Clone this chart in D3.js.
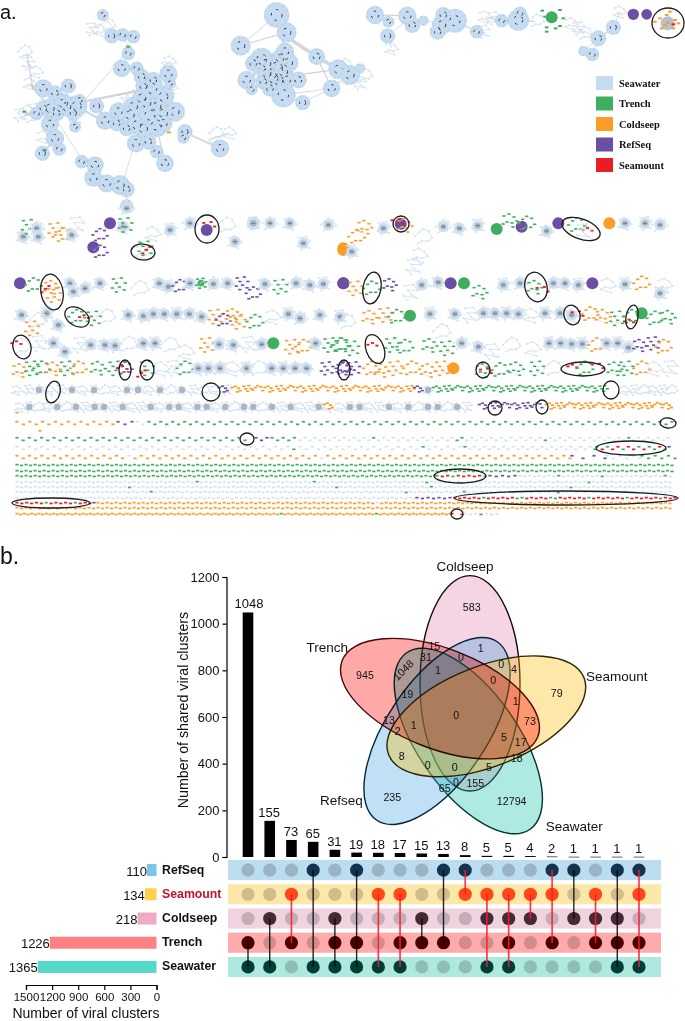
<!DOCTYPE html>
<html><head><meta charset="utf-8">
<script src="https://cdn.jsdelivr.net/npm/d3@7/dist/d3.min.js"></script>
<style>html,body{margin:0;padding:0;background:#fff}svg{display:block}text{font-family:"Liberation Sans",Arial,sans-serif;fill:#111}</style>
</head><body><svg id="c" width="685" height="1021"></svg>
<script>
/* ---------- panel b data ---------- */
const setNames=["RefSeq","Seamount","Coldseep","Trench","Seawater"];
const setTotals=[110,134,218,1226,1365];
const intersectionCounts=[1048,155,73,65,31,19,18,17,15,13,8,5,5,4,2,1,1,1,1];
const intersectionSets=["TS","CS","MT","RS","CTS","RTS","MS","MTS","CT","RT","RM","MCS","MCTS","MC","RMT","RC","MCT","RCTS","RMTS"];
const barTicks=[0,200,400,600,800,1000,1200];
const totalTicks=[1500,1200,900,600,300,0];
const vennNames=["Coldseep","Trench","Seamount","Refseq","Seawater"];
const vennValues=["583","1","15","31","0","0","4","1048","1","0","945","79","19","1","0","73","13","2","1","5","17","18","8","0","0","5","0","155","65","235","12794"];
/* ---------- panel a data ---------- */
const legendNames=["Seawater","Trench","Coldseep","RefSeq","Seamount"];
// network clusters: [x, y, radius] in 3x crop pixels
const netOne=[[308,45,10],[335,108,14],[368,105,12],[400,110,12],[385,160,12],[365,205,17],[410,205,12],[425,230,15],[505,222,18],[130,265,18],[165,280,15],[205,258,14],[455,265,25],[490,290,22],[425,295,20],[290,318,14],[230,318,22],[190,310,20],[150,325,20],[355,335,18],[315,362,18],[390,345,20],[525,335,20],[450,345,25],[410,375,20],[470,375,25],[380,385,15],[150,372,18],[225,380,10],[165,415,18],[555,395,14],[550,413,10],[408,430,18],[445,425,15],[470,455,12],[495,490,17],[178,447,12],[127,460,14],[660,445,18],[245,485,12],[285,495,17],[280,533,18],[320,550,18],[360,555,20],[380,568,15],[380,618,12],
[400,320,20],[440,310,20],[470,320,20],[490,340,20],[430,385,20],[490,370,18],[350,370,15],[130,325,15],[110,340,12],[200,320,20],[220,340,14],[170,340,15],[240,300,10],[460,240,15],[430,260,15],[510,250,10],
[830,45,27],[860,97,20],[722,137,20],[855,155,18],[785,178,24],[865,188,20],[740,240,18],[830,205,30],[800,220,20],[835,240,22],[860,240,18],[895,240,16],[810,265,16],[850,285,26],[908,308,14],[950,170,16],[1015,208,20],[995,265,17],[755,268,10],[800,190,20],[840,175,18],[760,190,16],[820,235,22],[790,245,15],[850,215,20]];
const netOneEdges=[[250,305,365,175,2],[250,305,450,265,5],[240,470,180,375,2],[370,540,405,430,2],[550,395,660,445,4],[250,330,340,380,5],[300,330,320,360,5],[365,175,385,130,3],[380,130,310,50,2],[430,240,505,222,5],[230,320,130,265,3],[150,325,90,250,4],[160,330,75,345,4],[165,415,150,370,4],[130,460,165,415,4],[180,450,165,415,3],[100,270,80,160,3],[245,490,285,500,4],[280,530,360,560,6],[380,570,380,620,3],[470,380,495,490,3],[660,445,625,420,2],[625,420,690,398,2],
[830,45,722,137,2],[860,97,722,137,3],[860,97,835,180,8],[830,45,860,97,9],[860,110,950,170,8],[950,170,1015,208,8],[950,170,995,265,3],[850,285,995,265,2],[908,308,995,265,2],[890,225,1015,208,3],[740,240,790,200,8],[722,137,770,180,2],[850,285,908,308,4]];
const netOnePale=[[90,250],[85,190],[75,155],[110,215],[60,345],[95,350],[300,90],[275,88],[325,75],[510,185],[500,205],[650,400],[690,398],[100,330],[80,335],[130,410],[370,300],[400,290],[515,262],[225,355],[1035,195],[1035,235]];
const netOneSpots=[["G",385,140],["G",133,450],["G",73,335],["O",507,397]];
const netTwo=[[90,45,18],[130,65,10],[187,47,18],[202,75,15],[128,108,14],[235,62,8],[295,45,15],[330,62,25],[290,75,20],[278,95,15],[395,95,12],[470,62,12],[520,60,22],[525,40,12],[760,115,15],[805,82,14],[715,153,8],[742,163,12],[15,225,20],[45,205,8]];
const netTwoEdges=[[100,45,187,47,3],[130,65,187,47,1],[128,108,187,60,2],[128,108,90,50,1],[128,108,140,145,2],[235,62,290,70,2],[330,62,395,95,3],[420,50,470,62,2],[520,60,570,65,3],[700,85,760,115,2],[760,115,805,82,3],[760,115,715,153,2],[760,115,742,163,2],[805,82,825,35,2]];
const netWisps=[[420,50],[445,55],[575,62],[680,70],[700,85],[720,100],[825,35],[45,250],[60,225],[140,145],[415,95]];
const netTwoBlobs=[["Gb",620,52,18],["Pb",865,43,17],["Pb",905,43,16]];
const netTwoScatter=[["G",592,32],["G",645,30],["G",600,50],["G",655,55],["G",605,95],["G",632,85],["G",605,82],["G",645,78],["O",968,68],["O",945,55],["O",990,60],["O",965,45],["O",985,85],["O",930,65],["O",950,85],["O",960,75],["O",975,35],["O",1000,70],["R",985,73]];
// panel-a middle rows: [kind, x, y] in 3x crop pixels, left crop and right crop
const rowNodesLeft=[["c",70,95],["G",85,65],["c",110,70],["c",115,95],["O",165,75],["O",190,90],["c",215,90],["s",230,60],["P",300,90],["Pb",330,55],["Pb",280,127],["P",300,140],["c",370,65],["G",375,60],["c",380,10],["s",430,140],["G",435,130],["R",450,145],["s",460,85],["c",510,75],["c",570,55],["Pb",620,75],["R",625,70],["s",680,60],["c",705,110],["L",760,55],["c",810,55],["c",870,55],["c",910,115],["c",985,60],["Ob",1030,130],
["Pb",60,235],["G",100,240],["O",155,245],["O",160,270],["R",147,262],["c",210,235],["c",220,260],["c",255,250],["c",300,235],["G",355,240],["s",420,250],["c",478,235],["c",505,245],["P",540,243],["c",570,235],["Gs",603,235],["c",640,237],["c",683,235],["P",725,235],["P",760,265],["c",795,237],["G",840,245],["c",888,235],["c",930,240],["c",970,237],["Pb",1030,235],
["c",65,330],["c",140,325],["s",115,345],["c",175,360],["O",95,370],["G",230,335],["R",255,347],["G",280,340],["s",320,335],["c",385,330],["c",430,333],["c",460,327],["c",493,327],["c",530,327],["c",568,327],["c",605,335],["O",645,335],["P",670,345],["O",700,330],["O",715,350],["G",765,350],["s",820,335],["c",865,327],["c",900,340],["c",960,330],["c",1020,335],
["s",65,425],["R",52,425],["s",115,415],["c",160,415],["c",195,440],["s",240,420],["c",272,420],["c",315,420],["c",345,422],["s",385,417],["c",430,415],["c",465,415],["s",510,420],["s",560,440],["O",620,420],["c",657,418],["c",700,420],["s",745,418],["c",785,418],["Gb",820,415],["O",875,425],["O",910,425],["c",947,415],["G",990,420],["G",1020,420],
["O",60,495],["G",95,490],["G",125,490],["O",160,490],["G",200,490],["O",235,490],["G",295,488],["G",345,490],["P",375,490],["R",370,500],["G",440,490],["R",435,515],["s",485,490],["s",520,490],["G",555,490],["c",595,490],["c",625,490],["c",660,490],["s",700,490],["c",740,490],["s",775,490],["c",815,490],["c",850,490],["c",885,490],["c",920,490],["P",980,490],["P",1030,490]];
const rowNodesRight=[["Ob",10,135],["c",35,140],["O",50,95],["O",75,65],["c",130,70],["Pb",182,57],["O",195,60],["R",170,62],["s",250,95],["s",240,150],["s",220,185],["c",310,65],["c",358,70],["c",413,62],["Gb",470,72],["G",510,45],["Pb",545,65],["G",560,55],["c",620,78],["Pb",655,55],["G",710,60],["R",745,85],["s",730,80],["Ob",808,55],["c",855,55],["c",915,55],["c",960,60],
["Pb",10,235],["O",45,250],["G",95,250],["P",150,238],["s",210,262],["c",245,240],["c",295,232],["Pb",332,235],["Gb",372,235],["G",420,260],["c",490,240],["c",540,235],["G",585,245],["R",605,265],["c",640,235],["c",675,235],["c",715,240],["Pb",757,235],["s",805,240],["c",855,238],["O",905,235],["s",975,240],["c",960,265],
["s",20,350],["O",90,335],["O",135,330],["G",170,335],["Gb",210,332],["c",270,327],["s",305,380],["c",345,327],["s",390,330],["c",430,325],["c",465,325],["c",500,325],["c",535,327],["s",575,330],["c",615,325],["c",660,325],["c",695,330],["R",710,338],["O",750,327],["O",790,332],["G",830,340],["G",875,335],["R",870,360],["Gb",905,325],["G",945,340],["G",985,335],
["G",35,430],["G",5,420],["R",100,430],["G",155,420],["G",195,425],["G",270,420],["G",320,430],["c",365,415],["c",415,425],["s",455,440],["s",515,420],["s",580,430],["c",627,415],["c",662,415],["c",695,417],["c",727,417],["O",770,420],["c",800,415],["c",833,415],["c",865,428],["P",900,420],["P",938,415],["O",970,425],
["P",10,490],["P",40,490],["O",95,490],["O",125,495],["O",165,490],["O",215,490],["O",265,495],["O",305,490],["Ob",340,490],["G",430,495],["R",435,510],["G",480,495],["G",530,490],["G",590,490],["s",640,490],["R",700,495],["R",770,495],["G",735,490],["G",825,490],["G",858,490],["O",905,490],["s",945,490],["s",990,490]];
// lower rows of small clusters: y, first x, last x, token per cluster
const midRows=[[390,17,226,"xxqxxqxqxxqqxqxqxxxx"],[390,223,223,"e"],[390,236,410,"aaaaaaaaaaaaaaaaa"],[390,418,418,"e"],[390,428,428,"q"],[390,437,603,"bbbbbbbbbbbbbbbbb"],[390,625,672,"xxxxxx"],
[407,20,328,"xqxxqxqxqqxqxxqxqqxqqxqxqqxqxqxxqx"],[407,328,328,"a"],[407,340,467,"xqqxxqxqxqqxqx"],[407,483,537,"eeeeee"],[407,550,667,"aaaaaaaaaaaaa"]];
// dense rows of single dashes: y, first x, last x, run-length coded tokens
const dashRows=[[423,17,113,"o16"],[423,118,132,"p3"],[423,137,672,"w2g86p1g2"],[414,17,17,"o1"],[432,40,40,"o1"],
[439,17,245,"g38"],[439,256,267,"p3"],[439,272,300,"g5w1"],[439,305,668,"w14g1w16g2w16g1w16g1w8"],
[448,17,460,"w45g1w20g1w6"],[448,465,595,"g1w26g1"],[448,597,665,"g1r1g1r2g1r2g1r1g2r1g1"],[448,669,669,"p1"],
[457,17,570,"o18w1o30w1o40"],[457,572,605,"p4"],[457,607,640,"w6"],[457,642,675,"g6"],
[465,17,672,"g146"],[471,17,672,"g146"],[476,17,435,"g93"],[476,437,485,"g1r2g1r5g1"],[476,490,515,"p5"],[476,520,670,"w8g1w8g1w12g1w1"],
[482,17,670,"w40g1w25g1w24g1w35g1w18"],[487,17,670,"w25g1w45g1w20g1w30g1w22"],[492,17,670,"w30g1w56g1w12g1w20g1w25"],
[498,17,415,"w88"],[498,417,450,"p7"],[498,455,675,"r6g1r6g2r5g2r6g1r7g1r6g1r3"],
[503,17,90,"r6g1r5g1r3"],[503,92,96,"p1"],[503,98,670,"o62w1o65"],[508,17,670,"o146"],[514,17,450,"o72g1o25g1o20"],[514,452,462,"r2"],[514,465,497,"w3g1w3"]];
// outlined groups: cx, cy, rx, ry, tilt in page px
const outlined=[[668,23,16,15,0],[143,252,12,8,5],[207,229,12,14,0],[401,224,8,8,0],[581,229,20,10,20],[52,292,11,18,-10],[372,288,9,16,10],[536,287,11,15,-15],[77,317,13,9,30],[572,315,8,10,-20],[632,317,6,12,10],[22,347,9,12,-15],[375,349,9,15,-20],[125,370,6,10,0],[147,370,7,10,0],[344,370,6,10,0],[483,370,7,8,0],[583,369,22,7,0],[53,392,7,11,15],[211,392,9,9,0],[611,390,8,9,0],[495,408,7,7,0],[542,407,6,7,0],[668,423,8,5,5],[247,439,7,6,0],[631,448,35,7,0],[460,476,26,7,0],[566,498,112,7,0],[51,503,39,5,0],[457,514,6,5,0]];
/* ---------- fixed layout ---------- */
const svg=d3.select("#c");
const colors={S:"#c6dcf2",G:"#3fae5e",O:"#fd9c27",P:"#6a4fa5",R:"#ea1c24"};
const legendColors=[colors.S,colors.G,colors.O,colors.P,colors.R];
const crop=(ox,oy)=>({x:d3.scaleLinear([0,3],[ox,ox+1]),y:d3.scaleLinear([0,3],[oy,oy+1])});
const defs=svg.append("defs");
defs.append("filter").attr("id","soft").attr("x","-5%").attr("y","-5%").attr("width","110%").attr("height","110%")
  .append("feGaussianBlur").attr("stdDeviation",0.55);
const net=svg.append("g").attr("filter","url(#soft)");
const patterns=[[[-6,-4],[-1,-6],[4,-3],[7,1],[2,3],[-3,2],[-7,4],[3,7]],[[-5,-6],[3,-7],[7,-2],[-2,-2],[1,2],[6,5],[-6,3],[-2,7]],[[-8,0],[-4,-4],[0,-7],[5,-5],[8,1],[4,4],[-1,4],[-5,6]]];
const line=d3.line();
function blob(sel,x,y,r,fill){sel.append("circle").attr("cx",x).attr("cy",y).attr("r",r).attr("fill",fill);}
function edges(list,c,g){g.selectAll(null).data(list).join("line").attr("x1",d=>c.x(d[0])).attr("y1",d=>c.y(d[1])).attr("x2",d=>c.x(d[2])).attr("y2",d=>c.y(d[3])).attr("stroke","#b8bcc2").attr("stroke-opacity",.6).attr("stroke-width",d=>d[4]*.45);}
function bigClusters(list,c,g){
  list.forEach(d=>{const x=c.x(d[0]),y=c.y(d[1]),r=d[2]/3*1.2+1.2;
    g.append("circle").attr("cx",x).attr("cy",y).attr("r",r+.8).attr("fill",colors.S);});
  list.forEach(d=>{const x=c.x(d[0]),y=c.y(d[1]),r=d[2]/3*1.2+1.2;
    g.append("circle").attr("cx",x).attr("cy",y).attr("r",r*.95).attr("fill","none").attr("stroke","#a3b3c4").attr("stroke-width",.6).attr("stroke-dasharray","1.5 4");
    if(r>5)g.append("circle").attr("cx",x).attr("cy",y).attr("r",r*.45).attr("fill","none").attr("stroke","#333").attr("stroke-width",1).attr("stroke-dasharray","2.5 5.5");
  });
}
function scatter(g,x,y,color,i,sc,n=8){
  const p=patterns[i%3].slice(0,n).map(o=>[x+o[0]*sc,y+o[1]*sc]);
  g.append("path").attr("d",line(p)).attr("fill","none").attr("stroke","#dbe6f1").attr("stroke-width",.7);
  g.selectAll(null).data(p).join("rect").attr("x",d=>d[0]-1.6).attr("y",d=>d[1]-.8).attr("width",3.2).attr("height",1.6).attr("fill",color);
}
function wisp(g,x,y,i,sc){
  const p=patterns[i%3].map(o=>[x+o[0]*sc,y+o[1]*sc]);
  g.append("path").attr("d",line(p)).attr("fill","none").attr("stroke","#cfddec").attr("stroke-width",.8);
  g.selectAll(null).data(p).join("circle").attr("cx",d=>d[0]).attr("cy",d=>d[1]).attr("r",1.1).attr("fill","#d6e4f2");
}
function rowCluster(g,x,y,r,i){
  wisp(g,x,y,i,.95);
  blob(g,x,y,r,"#cfdfef");
  blob(g,x,y,r*.5,"#a6b3c1");
  g.append("rect").attr("x",x-2).attr("y",y-.5).attr("width",4).attr("height",1).attr("fill","#6d7887");
}
function drawNode(g,k,x,y,i){
  if(k==="c")rowCluster(g,x,y,5.5,i);
  else if(k==="L")rowCluster(g,x,y,6.5,i);
  else if(k==="s")wisp(g,x,y,i,1.1);
  else if(k==="Gb")blob(g,x,y,6,colors.G);
  else if(k==="Pb")blob(g,x,y,6,colors.P);
  else if(k==="Ob")blob(g,x,y,6,colors.O);
  else if(k==="Gs"){blob(g,x,y,3.5,colors.G);scatter(g,x,y,colors.G,i,.7);}
  else if(k==="G")scatter(g,x,y,colors.G,i,1);
  else if(k==="O")scatter(g,x,y,colors.O,i,1);
  else if(k==="P")scatter(g,x,y,colors.P,i,.9);
  else if(k==="R"){g.selectAll(null).data(patterns[i%3].slice(0,3)).join("rect").attr("x",d=>x+d[0]*.9-1.6).attr("y",d=>y+d[1]*.9-.9).attr("width",3.2).attr("height",1.8).attr("fill",colors.R);}
}
/* top networks */
const c0=crop(0,0),c1=crop(345,0);
netOnePale.forEach((d,i)=>wisp(net,c0.x(d[0]),c0.y(d[1]),i,.9));
edges(netOneEdges,c0,net);bigClusters(netOne,c0,net);
netWisps.forEach((d,i)=>wisp(net,c1.x(d[0]),c1.y(d[1]),i,.9));
edges(netTwoEdges,c1,net);bigClusters(netTwo,c1,net);
netOneSpots.forEach(d=>net.append("rect").attr("x",c0.x(d[1])-2).attr("y",c0.y(d[2])-1).attr("width",4).attr("height",2).attr("fill",colors[d[0]]));
net.append("circle").attr("cx",c1.x(968)).attr("cy",c1.y(70)).attr("r",7).attr("fill","#b3c3d3");
netTwoScatter.forEach(d=>net.append("rect").attr("x",c1.x(d[1])-1.8).attr("y",c1.y(d[2])-1).attr("width",3.6).attr("height",2).attr("fill",colors[d[0]]));
netTwoBlobs.forEach(d=>blob(net,c1.x(d[1]),c1.y(d[2]),d[3]/3,colors[d[0][0]]));
/* middle rows */
const c2=crop(0,205),c3=crop(340,205);
rowNodesLeft.forEach((d,i)=>drawNode(net,d[0],c2.x(d[1]),c2.y(d[2]),i));
rowNodesRight.forEach((d,i)=>drawNode(net,d[0],c3.x(d[1]),c3.y(d[2]),i));
midRows.forEach(r=>{
  const xs=d3.scalePoint(d3.range(r[3].length),[r[1],r[2]]);
  Array.from(r[3]).forEach((t,i)=>{const x=xs(i)??r[1],y=r[0];
    if(t==="x")wisp(net,x,y,i,.7);
    else if(t==="q"){wisp(net,x,y,i,.65);blob(net,x,y,3.2,"#aab6c3");}
    else if(t==="a")scatter(net,x,y,colors.O,i,.62,5);
    else if(t==="b")scatter(net,x,y,colors.G,i,.62,5);
    else if(t==="e")scatter(net,x,y,colors.P,i,.62,5);
  });
});
const dashColor={g:colors.G,o:colors.O,p:colors.P,r:colors.R,w:"#d3e1f0"};
dashRows.forEach(r=>{
  const tokens=[];
  r[3].replace(/([a-z])(\d+)/g,(m,t,n)=>{for(let i=0;i<+n;i++)tokens.push(t);return m;});
  const xs=d3.scalePoint(d3.range(tokens.length),[r[1],r[2]]);
  const wiggle=r[0]<465?1.3:.4;
  net.selectAll(null).data(tokens).join("rect").attr("x",(d,i)=>xs(i)-1.6).attr("y",(d,i)=>r[0]-.8+(i%2?wiggle:-wiggle)).attr("width",3.2).attr("height",1.7).attr("fill",d=>dashColor[d]);
});
/* outlines */
svg.append("g").selectAll("ellipse").data(outlined).join("ellipse")
  .attr("transform",d=>`translate(${d[0]},${d[1]}) rotate(${d[4]})`).attr("rx",d=>d[2]).attr("ry",d=>d[3])
  .attr("fill","none").attr("stroke","#1c1c1c").attr("stroke-width",1.3);
/* legend */
const legY=d3.scalePoint(legendNames,[83,165]);
const leg=svg.append("g").selectAll("g").data(legendNames).join("g");
leg.append("rect").attr("x",596).attr("y",d=>legY(d)-7).attr("width",17).attr("height",14).attr("fill",(d,i)=>legendColors[i]);
leg.append("text").attr("x",619).attr("y",d=>legY(d)+3.5).text(d=>d).style("font-family","'Liberation Serif',serif").style("font-weight","bold").style("font-size","10.5px");
/* panel tags */
svg.append("text").attr("x",0).attr("y",18.5).text("a.").style("font-size","20px");
svg.append("text").attr("x",0).attr("y",564).text("b.").style("font-size","23px");
/* ---------- panel b ---------- */
const setColors=["#7cc4ec","#ffcf4f","#eeaac4","#ff8080","#55d9c8"];
const bandColors=["#bcdcf0","#fde7a9","#efd3df","#ffabab","#aee8df"];
const activeDot=["#13344f","#ff4718","#452a36","#4a0000","#003d36"];
const setLetters=["R","M","C","T","S"];
const x=d3.scalePoint(d3.range(19),[248,639]);
const rowY=d3.scaleBand(setNames,[860,977]).paddingInner(.17);
const rc=s=>rowY(s)+rowY.bandwidth()/2;
const yBar=d3.scaleLinear([0,1200],[857,577]);
const xTot=d3.scaleLinear([1500,0],[26,156.5]);
const plain=d3.format("d");
const b=svg.append("g");
b.selectAll(".bar").data(intersectionCounts).join("rect").attr("x",(d,i)=>x(i)-5.3).attr("width",10.6).attr("y",d=>yBar(d)).attr("height",d=>Math.max(.6,yBar(0)-yBar(d))).attr("fill","#000");
b.selectAll(".bl").data(intersectionCounts).join("text").attr("x",(d,i)=>x(i)+(i>0?-.5:1)).attr("y",d=>yBar(d)-4).attr("text-anchor","middle").style("font-size","13px").text(d=>d);
const ay=b.append("g").attr("transform","translate(226.5,0)").call(d3.axisLeft(yBar).tickValues(barTicks).tickFormat(plain).tickSize(4).tickPadding(3));
ay.selectAll("text").style("font-size","13px").style("font-family","'Liberation Sans',Arial,sans-serif");
ay.selectAll("path,line").attr("stroke","#000").attr("stroke-width",1.2);
b.append("text").attr("transform","translate(188,710) rotate(-90)").attr("text-anchor","middle").style("font-size","14.2px").text("Number of shared viral clusters");
/* matrix */
b.selectAll(".band").data(setNames).join("rect").attr("x",228).attr("width",433).attr("y",d=>rowY(d)).attr("height",rowY.bandwidth()).attr("fill",(d,i)=>bandColors[i]);
const cells=[];intersectionSets.forEach((s,i)=>setNames.forEach((n,j)=>cells.push({i,j,n,on:s.includes(setLetters[j])})));
b.selectAll(".dot").data(cells).join("circle").attr("cx",d=>x(d.i)).attr("cy",d=>rc(d.n)).attr("r",6.6)
  .attr("fill",d=>d.on?activeDot[d.j]:"#000").attr("fill-opacity",d=>d.on?1:.18);
intersectionSets.forEach((s,i)=>{
  const rows=setNames.filter((n,j)=>s.includes(setLetters[j]));
  const red=s.includes("M");
  b.append("line").attr("x1",x(i)).attr("x2",x(i)).attr("y1",rc(rows[0])).attr("y2",rc(rows[rows.length-1])).attr("stroke",red?"#ff1a30":"#000").attr("stroke-width",red?1.6:1.4).attr("stroke-opacity",red?.9:.85);
});
/* totals */
b.selectAll(".tot").data(setTotals).join("rect").attr("x",d=>xTot(d)).attr("width",d=>xTot(0)-xTot(d)).attr("y",(d,i)=>rc(setNames[i])-6).attr("height",12).attr("fill",(d,i)=>setColors[i]);
b.selectAll(".tl").data(setTotals).join("text").attr("x",d=>xTot(d)).attr("y",(d,i)=>rc(setNames[i])+5.5).attr("text-anchor","end").style("font-size","13px").text(d=>d);
b.selectAll(".rl").data(setNames).join("text").attr("x",162).attr("y",d=>rc(d)+3.5).style("font-size","12.3px").style("font-weight","bold").style("fill",d=>d==="Seamount"?"#c0142a":"#111").text(d=>d);
const ax=b.append("g").attr("transform","translate(0,985)").call(d3.axisBottom(xTot).tickValues(totalTicks).tickFormat(plain).tickSize(5).tickPadding(3));
ax.selectAll("text").style("font-size","11.5px").style("font-family","'Liberation Sans',Arial,sans-serif");
ax.selectAll("path,line").attr("stroke","#000").attr("stroke-width",1.2);
b.append("text").attr("x",86).attr("y",1017.5).attr("text-anchor","middle").style("font-size","14px").text("Number of viral clusters");
/* venn */
const vx=d3.scaleLinear([0,3],[290,291]),vy=d3.scaleLinear([0,3],[550,551]);
const vennShapes=[[540,400,50,107.7,0,"#de73a2",.3,"#14060b"],[535,573,50,107.7,-35,"#18c3ac",.35,"#04332c"],[441,543,50,107.7,34,"#2d9bde",.3,"#03283d"],[589,499,105,50,-21.5,"#f9ba09",.35,"#2c2400"],[450,446,105,50,21.3,"#ffa8a8",1,"#4a0505"]];
b.selectAll(".ve").data(vennShapes).join("ellipse").attr("transform",d=>`translate(${vx(d[0])},${vy(d[1])}) rotate(${d[4]})`).attr("rx",d=>d[2]).attr("ry",d=>d[3])
  .attr("fill",d=>d[5]).attr("fill-opacity",d=>d[6]).attr("stroke",d=>d[7]).attr("stroke-width",1.4).style("mix-blend-mode",(d,i)=>i===4?"multiply":null);
const vennValuePos=[[545,173],[572,295],[433,290],[408,322],[513,322],[634,343],[672,357],[348,357,-45],[444,362],[610,390],[225,377],[800,430],[352,433],[677,453],[499,495],[720,513],[297,512],[323,545],[371,527],[642,562],[692,578],[680,624],[335,618],[413,647],[494,653],[597,651],[498,697],[556,700],[464,715],[307,743],[665,754]];
b.selectAll(".vv").data(vennValues).join("text").attr("transform",(d,i)=>{const p=vennValuePos[i];return `translate(${vx(p[0])},${vy(p[1])+3.8}) rotate(${p[2]||0})`;}).attr("text-anchor","middle").style("font-size","10.7px").text(d=>d);
const vennNamePos=[[525,50],[112,291],[980,378],[154,751],[853,830]];
b.selectAll(".vn").data(vennNames).join("text").attr("x",(d,i)=>vx(vennNamePos[i][0])).attr("y",(d,i)=>vy(vennNamePos[i][1])+4.8).attr("text-anchor","middle").style("font-size","13.5px").text(d=>d);
</script></body></html>
